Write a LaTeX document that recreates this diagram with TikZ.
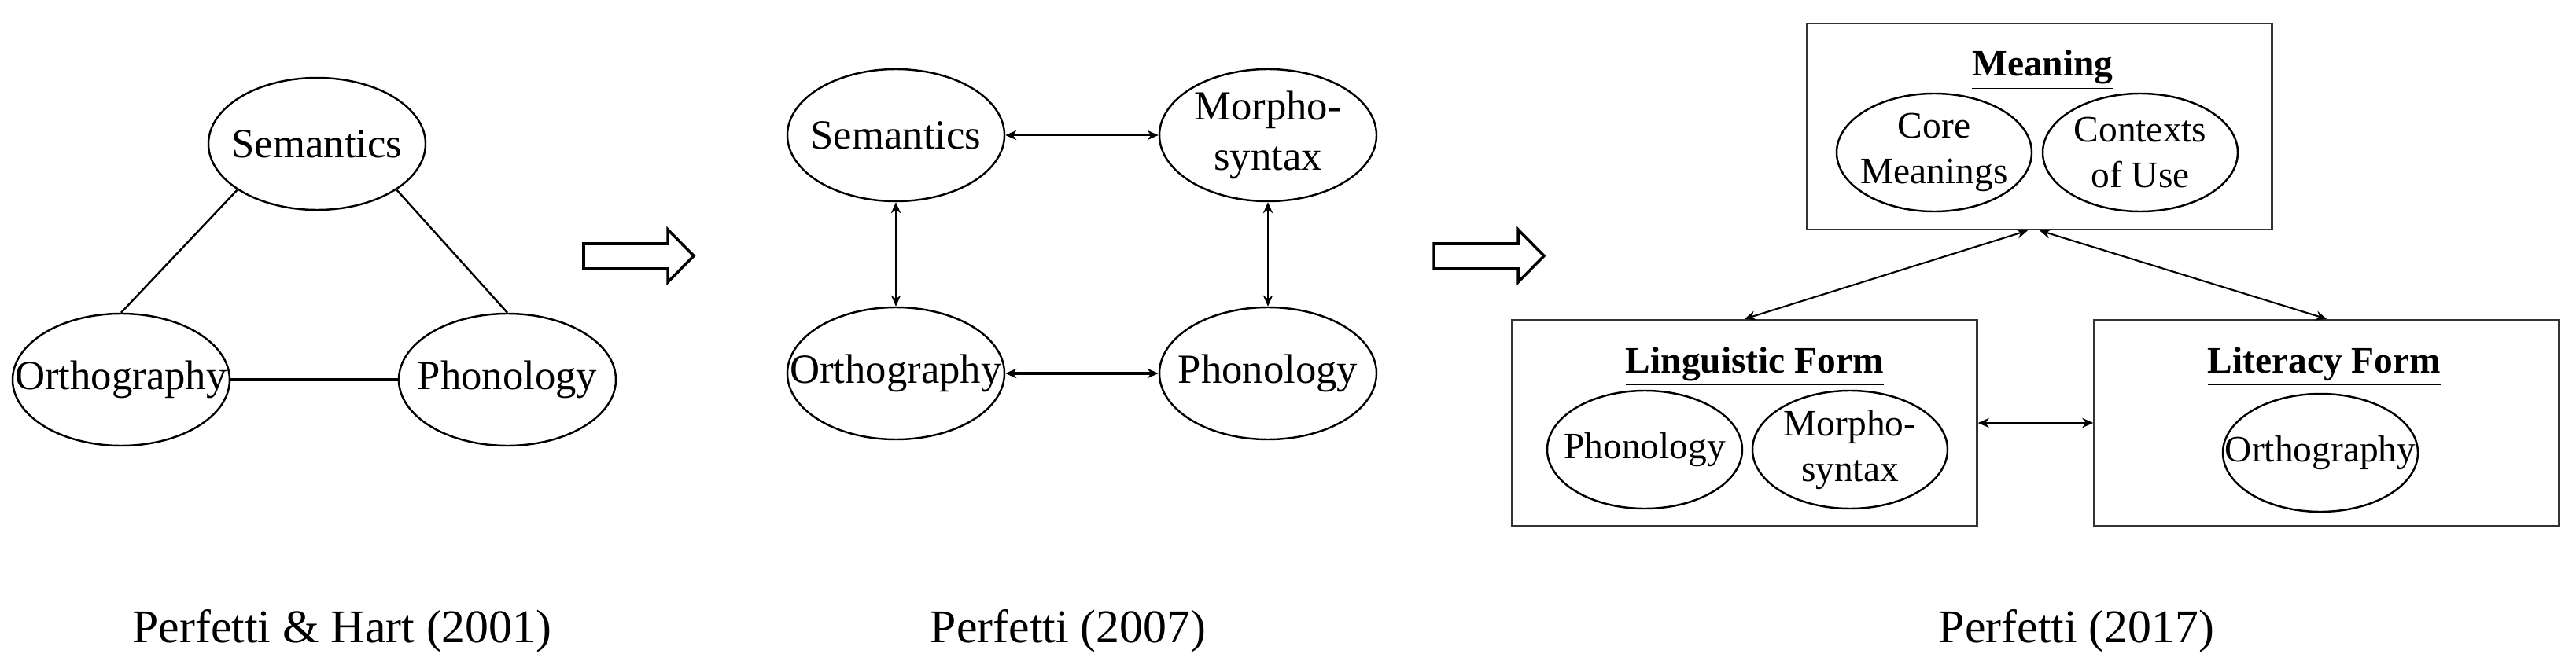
\documentclass[tikz,border=0pt]{standalone}
\usepackage{fontspec}
\setmainfont{Liberation Serif}
\usetikzlibrary{arrows.meta,shapes}

\begin{document}
\begin{tikzpicture}[>={Stealth[length=4pt,width=3.5pt]},
blob/.style={ellipse,draw,line width=0.7pt,inner sep=0pt,minimum width=2.76cm,minimum height=1.68cm},
sblob/.style={blob,minimum width=2.48cm,minimum height=1.5cm},
pane/.style={draw=black!80,line width=0.7pt,inner sep=0pt,minimum width=5.91cm,minimum height=2.62cm},
bigtxt/.style={font=\fontsize{15}{18}\selectfont,align=center},
smalltxt/.style={font=\fontsize{13.5}{16.5}\selectfont,align=center},
panetitle/.style={font=\fontsize{13.5}{16}\selectfont\bfseries,anchor=base,inner sep=0pt},
captxt/.style={font=\fontsize{17}{20}\selectfont,anchor=base,inner sep=0pt},
link/.style={<->,line width=0.6pt},
fatlink/.style={<->,line width=1pt},
blockarrow/.style={draw,line width=1pt,line join=miter}]
\useasboundingbox (0,0) rectangle (32.75,8.45);
% Perfetti & Hart (2001)
\node[blob,label={[bigtxt]center:Semantics}] (sem1) at (4.03,6.62) {};
\node[blob,label={[bigtxt]center:Orthography}] (orth1) at (1.54,3.62) {};
\node[blob,label={[bigtxt]center:Phonology}] (phon1) at (6.45,3.62) {};
\draw[line width=0.7pt] (sem1.210)--(orth1.north);
\draw[line width=0.7pt] (sem1.330)--(phon1.north);
\draw[line width=0.9pt] (orth1)--(phon1);
\node[captxt] (cap1) at (4.35,0.28) {Perfetti \& Hart (2001)};
% block arrows
\foreach \x in {7.42,18.23}
\draw[blockarrow] (\x,5.03)--++(1.07,0)--++(0,-0.17)--++(0.33,0.335)--++(-0.33,0.335)--++(0,-0.18)--++(-1.07,0)--cycle;
% Perfetti (2007)
\node[blob,label={[bigtxt]center:Semantics}] (sem2) at (11.39,6.73) {};
\node[blob,label={[bigtxt]center:Morpho-\\syntax}] (morph2) at (16.12,6.73) {};
\node[blob,label={[bigtxt]center:Orthography}] (orth2) at (11.39,3.70) {};
\node[blob,label={[bigtxt]center:Phonology}] (phon2) at (16.12,3.70) {};
\draw[link] (sem2)--(morph2);
\draw[link] (sem2)--(orth2);
\draw[link] (morph2)--(phon2);
\draw[fatlink] (orth2)--(phon2);
\node[captxt] (cap2) at (13.58,0.28) {Perfetti (2007)};
% Perfetti (2017)
\node[pane] (meaning) at (25.93,6.84) {};
\node[panetitle] (meaningT) at (25.97,7.48) {\underline{Meaning}};
\node[sblob,label={[smalltxt]center:Core\\Meanings}] (core) at (24.59,6.51) {};
\node[sblob,label={[smalltxt]center:Contexts\\of Use}] (ctx) at (27.21,6.51) {};
\node[pane] (ling) at (22.18,3.07) {};
\node[panetitle] (lingT) at (22.31,3.71) {\underline{Linguistic Form}};
\node[sblob,label={[smalltxt]center:Phonology}] (phon3) at (20.91,2.73) {};
\node[sblob,label={[smalltxt]center:Morpho-\\syntax}] (morph3) at (23.52,2.73) {};
\node[pane] (lit) at (29.58,3.07) {};
\node[panetitle] (litT) at (29.55,3.71) {\underline{Literacy Form}};
\node[sblob,label={[smalltxt]center:Orthography}] (orth3) at (29.50,2.69) {};
\draw[link] ([xshift=-1.5mm]meaning.south)--(ling.north);
\draw[link] (meaning.south)--(lit.north);
\draw[link] (ling)--(lit);
\node[captxt] (cap3) at (26.40,0.28) {Perfetti (2017)};
\end{tikzpicture}
\end{document}
